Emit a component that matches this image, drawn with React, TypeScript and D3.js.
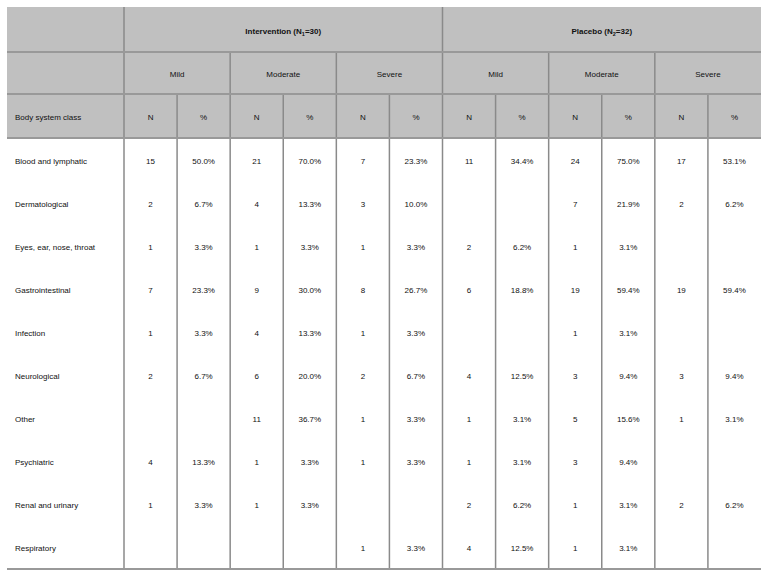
import React from "react";
import * as d3 from "d3";

const categories = ["Blood and lymphatic","Dermatological","Eyes, ear, nose, throat","Gastrointestinal","Infection","Neurological","Other","Psychiatric","Renal and urinary","Respiratory"];
const groups = [{ name: "Intervention", sub: "1", n: 30 }, { name: "Placebo", sub: "2", n: 32 }];
const severities = ["Mild", "Moderate", "Severe"];
// per row: [IntMild, IntMod, IntSev, PlaMild, PlaMod, PlaSev] counts (null = empty)
const counts: (number | null)[][] = [
  [15, 21, 7, 11, 24, 17],
  [2, 4, 3, null, 7, 2],
  [1, 1, 1, 2, 1, null],
  [7, 9, 8, 6, 19, 19],
  [1, 4, 1, null, 1, null],
  [2, 6, 2, 4, 3, 3],
  [null, 11, 1, 1, 5, 1],
  [4, 1, 1, 1, 3, null],
  [1, 1, null, 2, 1, 2],
  [null, null, 1, 4, 1, null],
];
const percents: (string | null)[][] = [
  ["50.0%", "70.0%", "23.3%", "34.4%", "75.0%", "53.1%"],
  ["6.7%", "13.3%", "10.0%", null, "21.9%", "6.2%"],
  ["3.3%", "3.3%", "3.3%", "6.2%", "3.1%", null],
  ["23.3%", "30.0%", "26.7%", "18.8%", "59.4%", "59.4%"],
  ["3.3%", "13.3%", "3.3%", null, "3.1%", null],
  ["6.7%", "20.0%", "6.7%", "12.5%", "9.4%", "9.4%"],
  [null, "36.7%", "3.3%", "3.1%", "15.6%", "3.1%"],
  ["13.3%", "3.3%", "3.3%", "3.1%", "9.4%", null],
  ["3.3%", "3.3%", null, "6.2%", "3.1%", "6.2%"],
  [null, null, "3.3%", "12.5%", "3.1%", null],
];

export default function App() {
  const W = 768, H = 576;
  const left = 7, firstW = 117, right = 761;
  const x = d3.scaleLinear().domain([0, 12]).range([left + firstW, right]);
  const cw = x(1) - x(0);
  const hy = [7, 52, 94, 138];
  const y = d3.scaleBand().domain(categories).range([138, 569]);
  const font = "'Liberation Sans', Arial, sans-serif";
  const lineC = "#8a8a8a";
  const cells: any[] = [];
  categories.forEach((c, r) => {
    const cy = y(c)! + 25.5;
    cells.push(<text key={"c" + r} x={left + 8} y={cy} fontSize={8}>{c}</text>);
    for (let k = 0; k < 6; k++) {
      const n = counts[r][k], p = percents[r][k];
      if (n != null) cells.push(<text key={`n${r}-${k}`} x={x(k * 2) + cw / 2} y={cy} fontSize={8} textAnchor="middle">{n}</text>);
      if (p != null) cells.push(<text key={`p${r}-${k}`} x={x(k * 2 + 1) + cw / 2} y={cy} fontSize={8} textAnchor="middle">{p}</text>);
    }
  });
  return (
    <svg width={W} height={H} style={{ position: "absolute", left: 0, top: 0 }} fontFamily={font} fill="#111">
      <rect x={left} y={hy[0]} width={right - left} height={hy[3] - hy[0]} fill="#c0c0c0" />
      {groups.map((g, i) => (
        <text key={g.name} x={x(i * 6) + 3 * cw} y={34} fontSize={8} fontWeight="bold" textAnchor="middle">
          {g.name} (N<tspan fontSize={5.5} dy={2}>{g.sub}</tspan><tspan dy={-2}>={g.n})</tspan>
        </text>
      ))}
      {severities.concat(severities).map((s, i) => (
        <text key={"s" + i} x={x(i * 2) + cw} y={77} fontSize={8} textAnchor="middle">{s}</text>
      ))}
      <text x={left + 8} y={120} fontSize={8}>Body system class</text>
      {d3.range(12).map(i => (
        <text key={"h" + i} x={x(i) + cw / 2} y={120} fontSize={8} textAnchor="middle">{i % 2 === 0 ? "N" : "%"}</text>
      ))}
      {cells}
      {[0, 6].map(i => <line key={"v1" + i} x1={x(i)} x2={x(i)} y1={hy[0]} y2={hy[1]} stroke={lineC} strokeWidth={1.5} />)}
      {[0, 2, 4, 6, 8, 10].map(i => <line key={"v2" + i} x1={x(i)} x2={x(i)} y1={hy[1]} y2={hy[2]} stroke={lineC} strokeWidth={1.5} />)}
      {d3.range(12).map(i => <line key={"v3" + i} x1={x(i)} x2={x(i)} y1={hy[2]} y2={569} stroke={lineC} strokeWidth={1.5} />)}
      {[hy[1], hy[2], hy[3], 569].map((yy, i) => <line key={"h" + i} x1={left} x2={right} y1={yy} y2={yy} stroke="#999" strokeWidth={2} />)}
    </svg>
  );
}
